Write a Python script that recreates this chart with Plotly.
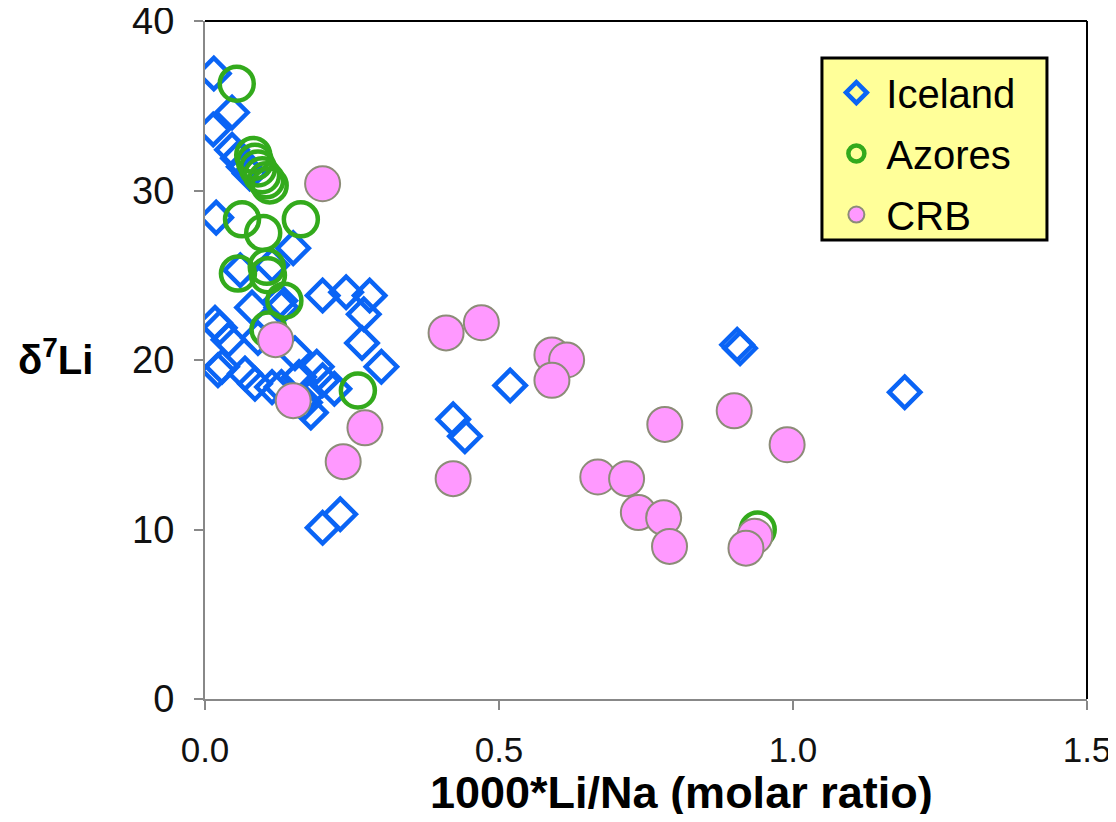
import plotly.graph_objects as go

# Iceland
iceland_x = [0.015, 0.046, 0.014, 0.046, 0.056, 0.066, 0.076, 0.019, 0.15, 0.114, 0.06, 0.128,
             0.08, 0.13, 0.017, 0.025, 0.04, 0.022, 0.029, 0.068, 0.085, 0.114, 0.13, 0.153,
             0.19, 0.2, 0.18, 0.17, 0.2, 0.24, 0.28, 0.27, 0.267, 0.3, 0.22, 0.2, 0.23,
             0.422, 0.442, 0.519, 0.905, 0.91, 1.19, 0.09, 0.16, 0.175]
iceland_y = [36.9, 34.6, 33.6, 32.4, 31.9, 31.4, 31.0, 28.4, 26.6, 25.6, 25.3, 23.5,
             23.1, 23.1, 22.2, 21.9, 21.2, 19.4, 19.6, 19.2, 18.6, 18.4, 18.4, 20.4,
             19.6, 18.8, 16.9, 17.5, 23.8, 24.0, 23.8, 22.7, 21.0, 19.6, 18.3, 10.1, 10.9,
             16.5, 15.5, 18.5, 20.9, 20.7, 18.1, 21.3, 19.0, 18.0]

# Azores
azores_x = [0.054, 0.082, 0.085, 0.09, 0.097, 0.104, 0.11, 0.063, 0.163, 0.099, 0.056,
            0.105, 0.107, 0.135, 0.108, 0.26, 0.94]
azores_y = [36.3, 32.1, 31.7, 31.3, 30.9, 30.6, 30.3, 28.3, 28.3, 27.5, 25.1,
            25.5, 25.0, 23.5, 21.8, 18.2, 10.0]

# CRB
crb_x = [0.2, 0.12, 0.15, 0.235, 0.272, 0.41, 0.47, 0.59, 0.615, 0.59, 0.422, 0.668,
         0.717, 0.737, 0.78, 0.79, 0.782, 0.90, 0.99, 0.935, 0.92]
crb_y = [30.4, 21.2, 17.6, 14.0, 16.0, 21.6, 22.2, 20.3, 20.0, 18.8, 13.0, 13.1,
         13.0, 11.0, 10.7, 9.0, 16.2, 17.0, 15.0, 9.6, 8.9]

x_ticks = [0.0, 0.5, 1.0, 1.5]
x_tick_labels = ["0.0", "0.5", "1.0", "1.5"]
y_ticks = [0, 10, 20, 30, 40]

x_title = "<b>1000*Li/Na (molar ratio)</b>"
y_title = "<b>δ<sup>7</sup>Li</b>"

FONT = "Liberation Sans, Arial, sans-serif"

fig = go.Figure()
fig.add_trace(go.Scatter(
    x=iceland_x, y=iceland_y, mode="markers", name="Iceland", legendgroup="a",
    marker=dict(symbol="diamond-open", size=24, color="#0a64f5",
                line=dict(width=4.5, color="#0a64f5"))))
fig.add_trace(go.Scatter(
    x=azores_x, y=azores_y, mode="markers", name="Azores", legendgroup="b",
    marker=dict(symbol="circle-open", size=34, color="#33aa1c",
                line=dict(width=4.5, color="#33aa1c"))))
fig.add_trace(go.Scatter(
    x=crb_x, y=crb_y, mode="markers", name="CRB", legendgroup="c",
    marker=dict(symbol="circle", size=35, color="#ff99ff",
                line=dict(width=2, color="#8c8c78"))))

# page body has an 8px default margin, so the figure is sized to fit the window
fig.update_layout(
    width=1108, height=806,
    margin=dict(l=197, r=29, t=13, b=115),
    paper_bgcolor="white", plot_bgcolor="white",
    font=dict(family=FONT, color="#000000"),
    showlegend=True,
    legend=dict(
        x=0.7045, y=0.9424, xanchor="left", yanchor="top",
        bgcolor="rgba(0,0,0,0)", borderwidth=0,
        font=dict(size=40, family=FONT, color="#000000"),
        tracegroupgap=6, itemsizing="trace", itemwidth=50,
    ),
    xaxis=dict(
        range=[0, 1.5], tickvals=x_ticks, ticktext=x_tick_labels,
        showgrid=False, zeroline=False, automargin=False,
        showline=True, linecolor="#888888", linewidth=2,
        ticks="outside", ticklen=9, tickcolor="#888888", tickwidth=1.5,
        ticklabelstandoff=10, ticklabeloverflow="allow",
        tickfont=dict(size=35, family=FONT, color="#111111"),
    ),
    yaxis=dict(
        range=[0, 40], tickvals=y_ticks,
        showgrid=False, zeroline=False, automargin=False,
        showline=True, linecolor="#888888", linewidth=2,
        ticks="outside", ticklen=9, tickcolor="#888888", tickwidth=1.5,
        ticklabelstandoff=12, ticklabeloverflow="allow",
        tickfont=dict(size=38, family=FONT, color="#111111"),
    ),
    annotations=[
        dict(text=x_title, xref="paper", yref="paper", x=0.54, y=-0.1386,
             xanchor="center", yanchor="middle", showarrow=False,
             font=dict(size=45, family=FONT, color="#000000")),
        dict(text=y_title, xref="paper", yref="paper", x=-0.17, y=0.505,
             xanchor="center", yanchor="middle", showarrow=False,
             font=dict(size=40, family=FONT, color="#000000")),
    ],
    shapes=[
        dict(type="line", xref="paper", yref="paper", x0=0, x1=1, y0=1, y1=1,
             line=dict(color="#000000", width=2)),
        dict(type="line", xref="paper", yref="paper", x0=1, x1=1, y0=0, y1=1,
             line=dict(color="#000000", width=2)),
        # legend box
        dict(type="rect", xref="paper", yref="paper", layer="above",
             x0=0.6995, x1=0.9546, y0=0.677, y1=0.9454,
             fillcolor="#ffff99", line=dict(color="#000000", width=3)),
    ],
)

fig.write_html("out.html")
